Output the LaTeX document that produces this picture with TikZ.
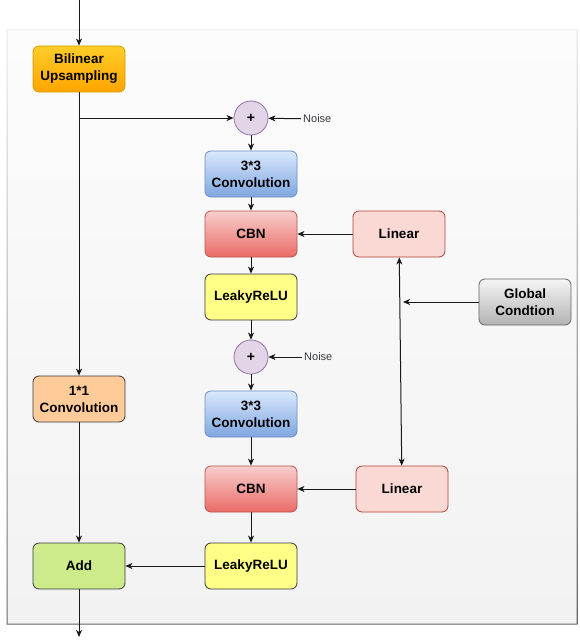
\documentclass[tikz,border=0pt]{standalone}
\usepackage{fontspec}
\setmainfont{Liberation Sans}
\usetikzlibrary{positioning,arrows.meta}

\definecolor{orangetop}{HTML}{FFCD28}
\definecolor{orangebot}{HTML}{FFA500}
\definecolor{orangeedge}{HTML}{D79B00}
\definecolor{bluetop}{HTML}{DAE8FC}
\definecolor{bluebot}{HTML}{7EA6E0}
\definecolor{blueedge}{HTML}{6C8EBF}
\definecolor{redtop}{HTML}{F8CECC}
\definecolor{redbot}{HTML}{EA6B66}
\definecolor{rededge}{HTML}{B85450}
\definecolor{linfill}{HTML}{FAD9D5}
\definecolor{linedge}{HTML}{AE4132}
\definecolor{yellowfill}{HTML}{FFFF88}
\definecolor{darkedge}{HTML}{36393D}
\definecolor{greytop}{HTML}{F5F5F5}
\definecolor{greybot}{HTML}{B3B3B3}
\definecolor{greyedge}{HTML}{666666}
\definecolor{peachfill}{HTML}{FFCC99}
\definecolor{greenfill}{HTML}{CDEB8B}
\definecolor{plusfill}{HTML}{E1D5E7}
\definecolor{plusedge}{HTML}{9673A6}
\definecolor{paneltop}{HTML}{FCFCFC}
\definecolor{panelbot}{HTML}{F2F2F2}
\definecolor{paneledgetop}{HTML}{EBEBEB}
\definecolor{paneledgebot}{HTML}{666666}

\tikzset{
  block/.style={rectangle, rounded corners=6pt, line width=0.8pt,
    minimum width=92pt, minimum height=46pt, align=center,
    font=\bfseries\fontsize{13.5}{17}\selectfont},
  orangebox/.style={draw=orangeedge, top color=orangetop, bottom color=orangebot},
  bluebox/.style={draw=blueedge, top color=bluetop, bottom color=bluebot},
  redbox/.style={draw=rededge, top color=redtop, bottom color=redbot},
  greybox/.style={draw=greyedge, top color=greytop, bottom color=greybot},
  linbox/.style={draw=linedge, fill=linfill},
  yellowbox/.style={draw=darkedge, fill=yellowfill},
  peachbox/.style={draw=darkedge, fill=peachfill},
  greenbox/.style={draw=darkedge, fill=greenfill},
  plusnode/.style={circle, draw=plusedge, fill=plusfill, line width=0.8pt,
    minimum size=34pt, inner sep=0pt, font=\bfseries\fontsize{14}{16}\selectfont},
  noiselabel/.style={inner sep=2pt, anchor=west, text=darkedge,
    font=\fontsize{11}{13}\selectfont},
  link/.style={->, line width=1pt, draw=black!90}
}

\begin{document}
\begin{tikzpicture}[x=1pt, y=-1pt,
    >={Stealth[length=7pt, width=6pt, inset=2pt]}]
    \useasboundingbox (0,0) rectangle (579,642);

    % panel
    \shade[top color=paneltop, bottom color=panelbot] (7,30) rectangle (577,624);
    \shade[top color=paneledgetop, bottom color=paneledgebot, even odd rule]
        (6.5,29.5) rectangle (577.5,624.5) (7.5,30.5) rectangle (576.5,623.5);

    % blocks
    \node[block, orangebox] (up) at (79,69) {Bilinear\\Upsampling};
    \node[plusnode] (add1) at (251,118) {+};
    \node[block, bluebox] (conv1) at (251,174) {3*3\\Convolution};
    \node[block, redbox] (cbn1) at (251,234) {CBN};
    \node[block, linbox] (lin1) at (399,234) {Linear};
    \node[block, yellowbox] (relu1) at (251,297) {LeakyReLU};
    \node[block, greybox] (gc) at (525,302) {Global\\Condtion};
    \node[plusnode] (add2) at (251,357) {+};
    \node[block, bluebox] (conv2) at (251,414) {3*3\\Convolution};
    \node[block, redbox] (cbn2) at (251,489) {CBN};
    \node[block, linbox] (lin2) at (402,489) {Linear};
    \node[block, yellowbox] (relu2) at (251,566) {LeakyReLU};
    \node[block, peachbox] (conv11) at (79,399) {1*1\\Convolution};
    \node[block, greenbox] (sum) at (79,566) {Add};

    % noise inputs
    \node[noiselabel] (noise1) at (301,119) {Noise};
    \node[noiselabel] (noise2) at (302,357) {Noise};

    % free ends
    \coordinate (in) at (79,0);
    \coordinate (out) at (79,637);
    \coordinate (split) at (79,118);
    \coordinate (gcend) at (403,302);

    % connectors
    \draw[link] (in) -- (up);
    \draw[link] (up) -- (conv11);
    \draw[link] (split) -- (add1);
    \draw[link] (noise1) -- (add1);
    \draw[link] (add1) -- (conv1);
    \draw[link] (conv1) -- (cbn1);
    \draw[link] (lin1) -- (cbn1);
    \draw[link] (cbn1) -- (relu1);
    \draw[link] (relu1) -- (add2);
    \draw[link] (noise2) -- (add2);
    \draw[link] (add2) -- (conv2);
    \draw[link] (conv2) -- (cbn2);
    \draw[link] (lin2) -- (cbn2);
    \draw[link] (cbn2) -- (relu2);
    \draw[link, <->] (lin1) -- (lin2);
    \draw[link] (gc) -- (gcend);
    \draw[link] (relu2) -- (sum);
    \draw[link] (conv11) -- (sum);
    \draw[link] (sum) -- (out);
\end{tikzpicture}
\end{document}
